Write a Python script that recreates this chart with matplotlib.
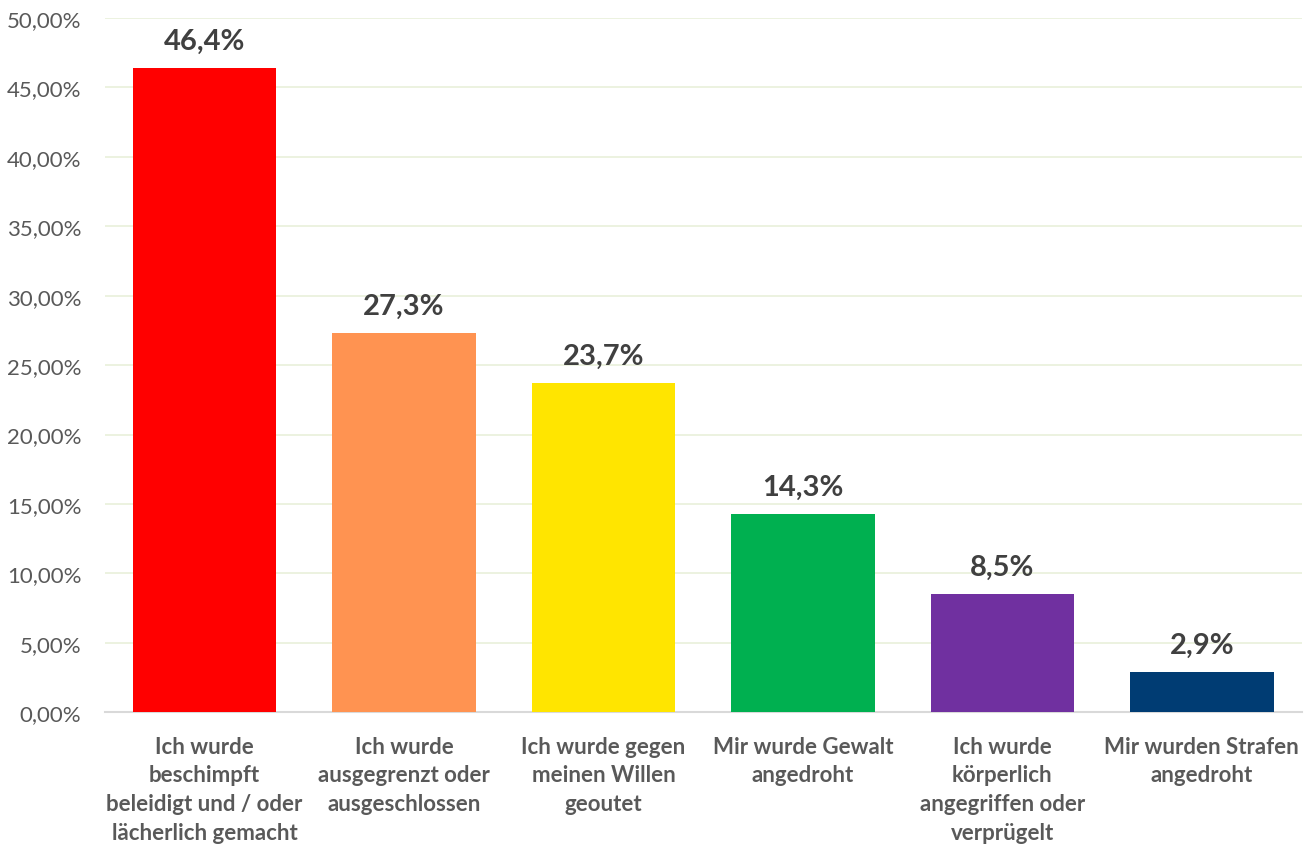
import matplotlib
matplotlib.use("Agg")
import matplotlib.pyplot as plt
from matplotlib.ticker import FuncFormatter

categories = [
    "Ich wurde\nbeschimpft\nbeleidigt und / oder\nlächerlich gemacht",
    "Ich wurde\nausgegrenzt oder\nausgeschlossen",
    "Ich wurde gegen\nmeinen Willen\ngeoutet",
    "Mir wurde Gewalt\nangedroht",
    "Ich wurde\nkörperlich\nangegriffen oder\nverprügelt",
    "Mir wurden Strafen\nangedroht",
]
values = [46.4, 27.3, 23.7, 14.3, 8.5, 2.9]
colors = ["#FF0000", "#FF9351", "#FFE500", "#00B050", "#7030A0", "#003C73"]
yticks = [0, 5, 10, 15, 20, 25, 30, 35, 40, 45, 50]

plt.rcParams['font.family'] = ['Lato', 'DejaVu Sans']

fig = plt.figure(figsize=(13.12, 8.45), dpi=100)
ax = fig.add_axes([0.080, 0.156, 0.912, 0.8215])

x = range(len(values))
bars = ax.bar(x, values, width=0.72, color=colors, zorder=3)
for xi, v in zip(x, values):
    ax.text(xi, v + 1.0, f"{v:.1f}%".replace(".", ","), ha="center", va="bottom",
            fontsize=21, fontweight="bold", color="#404040")

ax.set_xlim(-0.5, len(values) - 0.5)
ax.set_ylim(0, 50)
ax.set_yticks(yticks)
ax.yaxis.set_major_formatter(FuncFormatter(lambda v, p: f"{v:.2f}%".replace(".", ",")))
ax.grid(axis="y", color="#EAF1DD", linewidth=1.3, zorder=0)
ax.set_xticks(list(x))
ax.set_xticklabels(categories, fontsize=16, fontweight="bold", color="#595959", linespacing=1.45, va="top")
for s in ["top", "right", "left"]:
    ax.spines[s].set_visible(False)
ax.spines["bottom"].set_color("#D9D9D9")
ax.spines["bottom"].set_linewidth(1.5)
ax.tick_params(axis="both", length=0)
ax.tick_params(axis="y", labelsize=16, labelcolor="#595959", pad=17)
ax.tick_params(axis="x", pad=17)

fig.savefig("out.png", dpi=100, facecolor="white")
